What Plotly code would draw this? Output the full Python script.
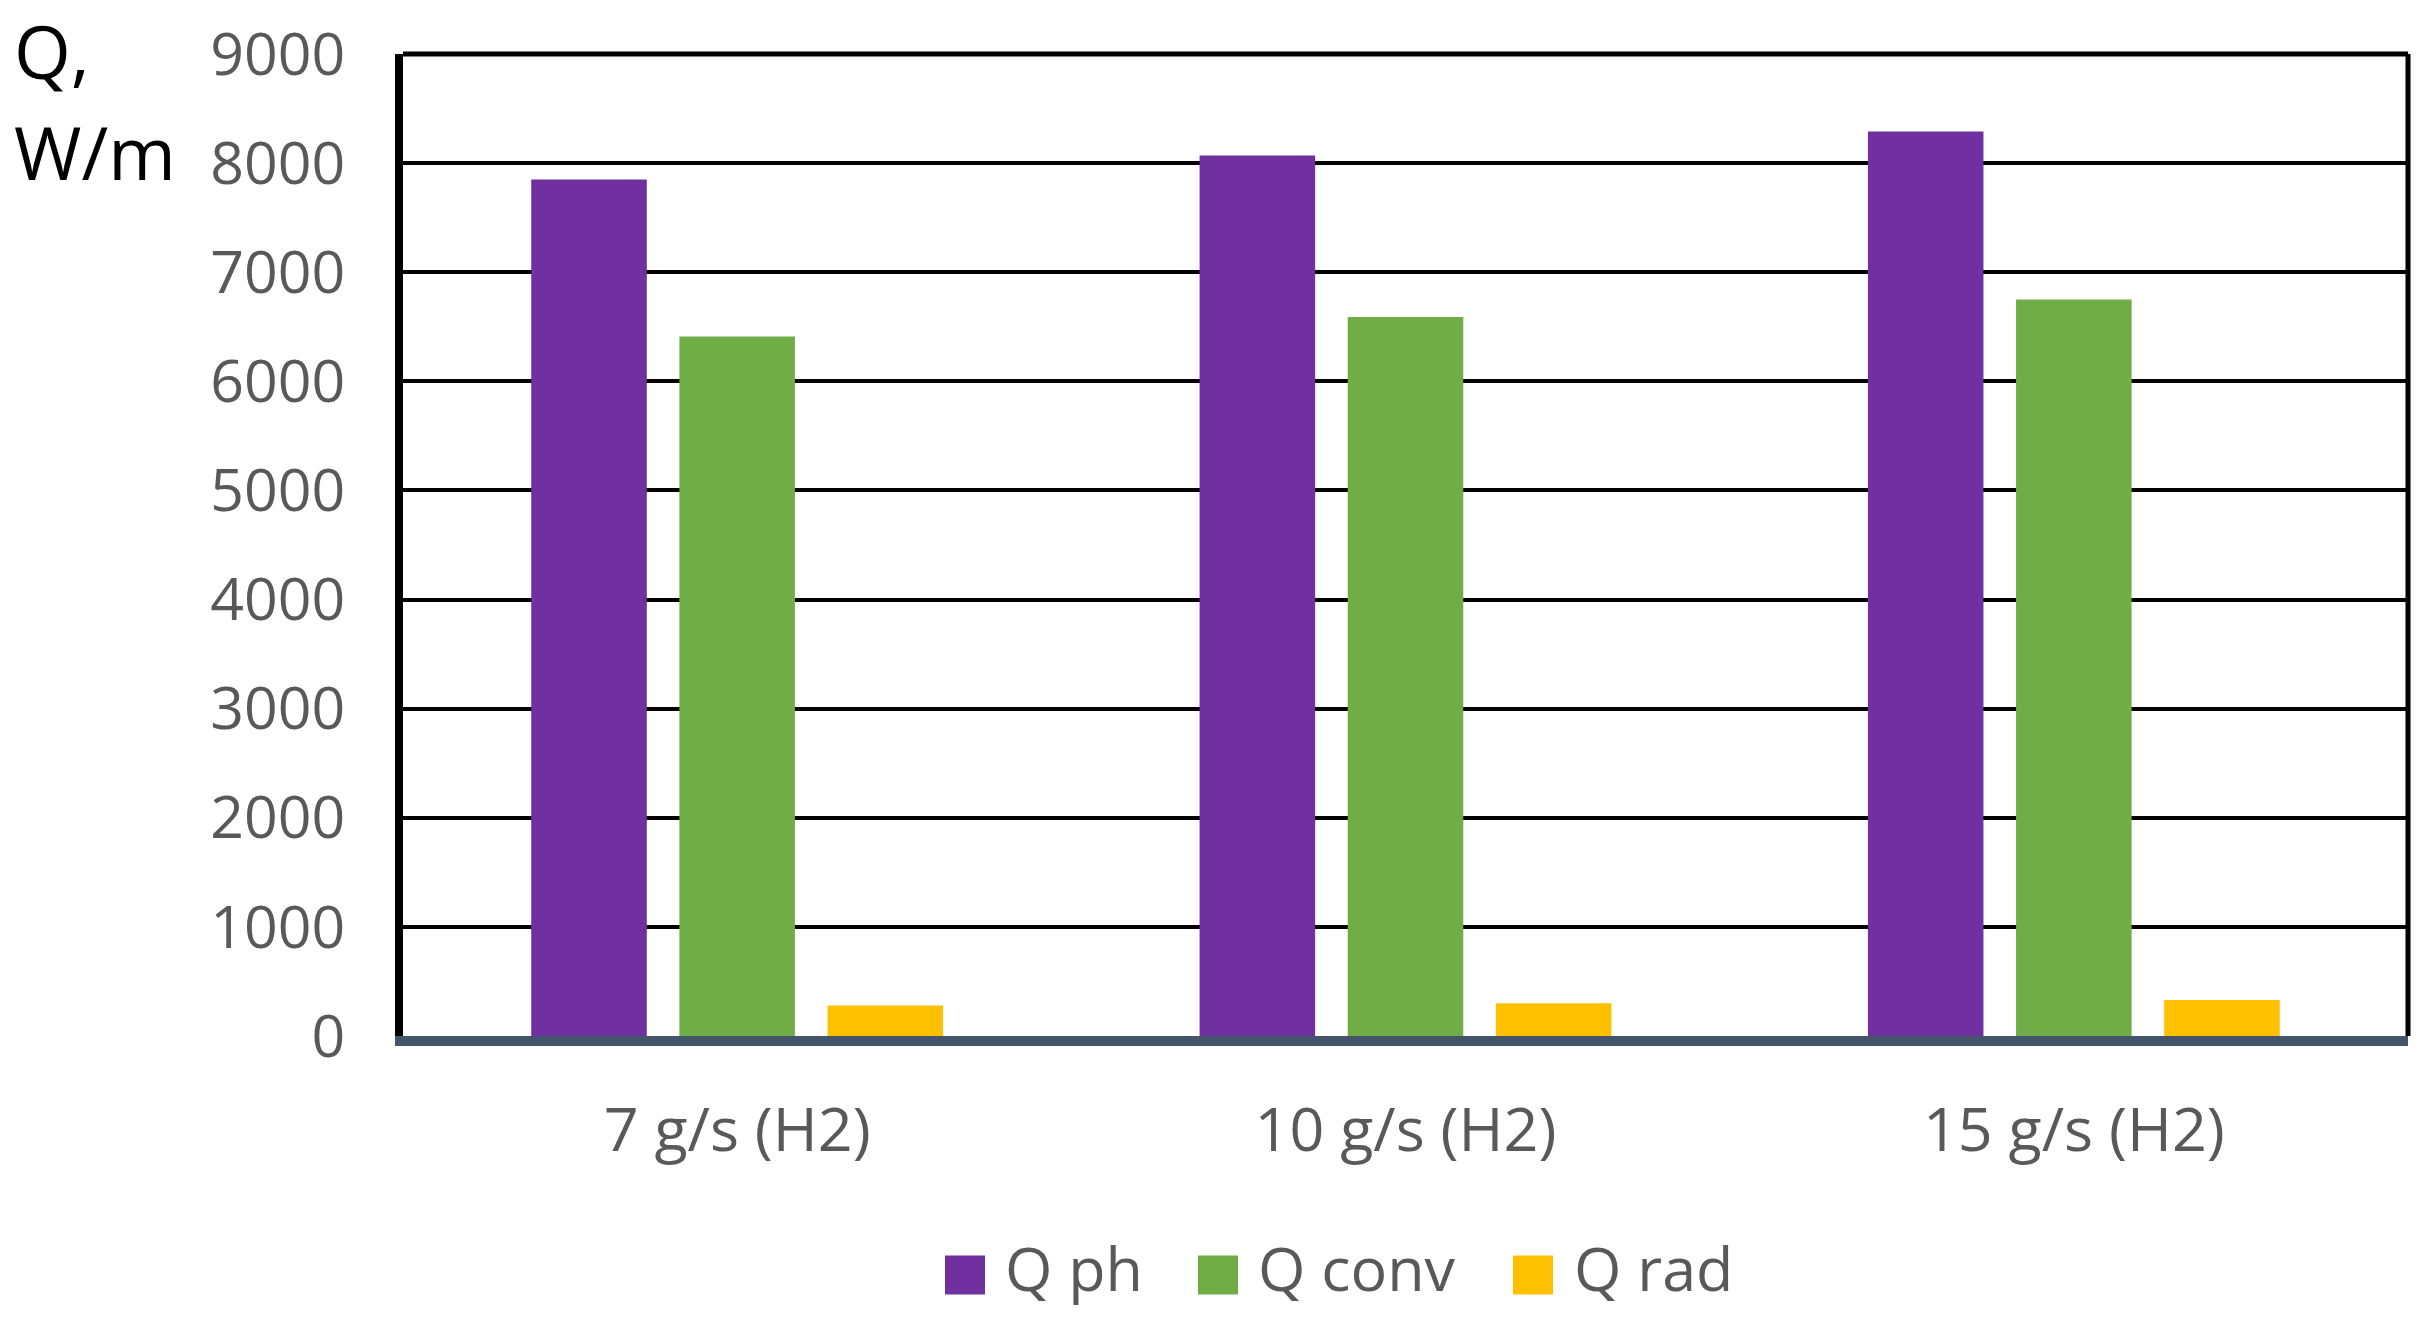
import plotly.graph_objects as go

categories = ["7 g/s (H2)", "10 g/s (H2)", "15 g/s (H2)"]
q_ph = [7850, 8070, 8290]
q_conv = [6410, 6590, 6750]
q_rad = [280, 300, 330]
series_names = ["Q ph", "Q conv", "Q rad"]
series_colors = ["#7030A0", "#70AD47", "#FFC000"]
y_ticks = [0, 1000, 2000, 3000, 4000, 5000, 6000, 7000, 8000, 9000]

W, H = 2431, 1320
L, R, T, B = 403, 23, 52, 284
PW, PH = W - L - R, H - T - B

def px_x(x):
    return (x - L) / PW

def px_y(y):
    return 1 - (y - T) / PH

FONT = "Open Sans, Noto Sans, Liberation Sans, sans-serif"
GRAY = "#595959"

fig = go.Figure()
for name, vals, col in zip(series_names, [q_ph, q_conv, q_rad], series_colors):
    fig.add_trace(go.Bar(x=categories, y=vals, name=name, marker=dict(color=col, line=dict(width=0)),
                         showlegend=False))

fig.update_layout(
    width=W, height=H,
    margin=dict(l=L, r=R, t=T, b=B),
    paper_bgcolor="white", plot_bgcolor="white",
    barmode="group", bargap=0.335, bargroupgap=0.22,
    font=dict(family=FONT, color=GRAY, size=59),
)
fig.update_yaxes(range=[0, 9000], tickvals=y_ticks, ticktext=[str(v) for v in y_ticks],
                 showgrid=True, gridcolor="black", gridwidth=3.5,
                 showline=True, linecolor="black", linewidth=8,
                 ticks="", ticklabelstandoff=38, zeroline=False,
                 tickfont=dict(size=59, color=GRAY, family=FONT))
fig.update_xaxes(showline=True, linecolor="#44546A", linewidth=10, ticks="",
                 ticklabelstandoff=32, tickfont=dict(size=61, color=GRAY, family=FONT))

# frame (top and right)
fig.add_shape(type="line", xref="paper", yref="paper", x0=0, x1=1, y0=1, y1=1,
              line=dict(color="black", width=5), layer="above")
fig.add_shape(type="line", xref="paper", yref="paper", x0=1, x1=1, y0=0, y1=1,
              line=dict(color="black", width=5), layer="above")

# axis title
fig.add_annotation(text="Q,", xref="paper", yref="paper", x=px_x(12), y=px_y(48),
                   xanchor="left", yanchor="middle", showarrow=False,
                   font=dict(size=73, color="black", family=FONT))
fig.add_annotation(text="W/m", xref="paper", yref="paper", x=px_x(12), y=px_y(150),
                   xanchor="left", yanchor="middle", showarrow=False,
                   font=dict(size=73, color="black", family=FONT))

# legend
sq_left = [945, 1198, 1513]
txt_left = [1003, 1256, 1572]
for name, col, sx, tx in zip(series_names, series_colors, sq_left, txt_left):
    fig.add_shape(type="rect", xref="paper", yref="paper",
                  x0=px_x(sx), x1=px_x(sx + 40), y0=px_y(1256), y1=px_y(1295),
                  fillcolor=col, line=dict(width=0))
    fig.add_annotation(text=name, xref="paper", yref="paper", x=px_x(tx), y=px_y(1268),
                       xanchor="left", yanchor="middle", showarrow=False,
                       font=dict(size=61, color=GRAY, family=FONT))

fig.write_html("out.html", config={"displayModeBar": False},
               post_script="document.body.style.margin='0px';")
